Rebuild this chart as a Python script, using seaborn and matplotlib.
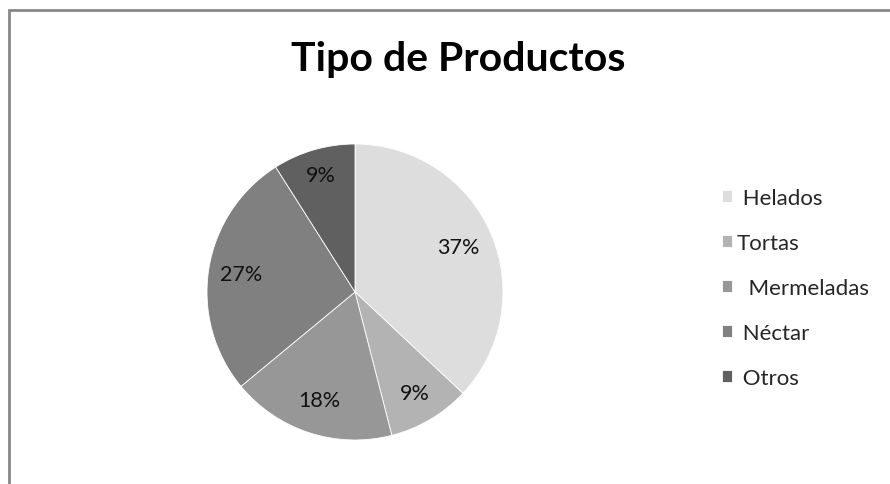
import matplotlib
matplotlib.use("Agg")
import matplotlib.pyplot as plt
from matplotlib.patches import Rectangle
import numpy as np
import seaborn as sns

categories = ["Helados", "Tortas", "Mermeladas", "Néctar", "Otros"]
legend_labels = [" Helados", "Tortas", "  Mermeladas", " Néctar", " Otros"]
values = [37, 9, 18, 27, 9]
colors = ["#dddddd", "#b3b3b3", "#979797", "#808080", "#606060"]
title = "Tipo de Productos"

sns.set_theme(style="white")
plt.rcParams["font.family"] = ["Lato", "DejaVu Sans"]

W, H = 890, 485
fig = plt.figure(figsize=(W / 100, H / 100), dpi=100)
fig.patch.set_facecolor("white")

cx, cy, r = 355, 293, 148
ax = fig.add_axes([(cx - r) / W, (H - cy - r) / H, 2 * r / W, 2 * r / H])

wedges, texts, autotexts = ax.pie(
    values, colors=colors, startangle=90, counterclock=False,
    autopct=lambda p: f"{p:.0f}%", pctdistance=0.78,
    wedgeprops=dict(edgecolor="white", linewidth=0.6),
    textprops=dict(fontsize=15.5, color="#111111"),
)
ax.set_aspect("equal")
ax.set_xlim(-1, 1)
ax.set_ylim(-1, 1)

# per-wedge label radius
label_r = [0.76, 0.79, 0.77, 0.78, 0.82]
for w, t, lr in zip(wedges, autotexts, label_r):
    ang = np.deg2rad((w.theta1 + w.theta2) / 2)
    t.set_position((lr * np.cos(ang), lr * np.sin(ang)))

fig.text(458 / W, 1 - 60 / H, title, ha="center", va="center",
         fontsize=29.5, fontweight="bold", color="#000000")

leg = fig.legend(wedges, legend_labels, loc="upper left",
                 bbox_to_anchor=(711 / W, 1 - 178 / H), frameon=False,
                 fontsize=16, handlelength=0.46, handleheight=0.46,
                 handletextpad=0.2, labelspacing=1.12, borderpad=0)

fig.add_artist(Rectangle((8.5 / W, -0.1), 2, (H - 10.5) / H + 0.1,
                         transform=fig.transFigure, fill=False,
                         edgecolor="#888888", linewidth=2))

fig.savefig("out.png", dpi=100, facecolor="white")
